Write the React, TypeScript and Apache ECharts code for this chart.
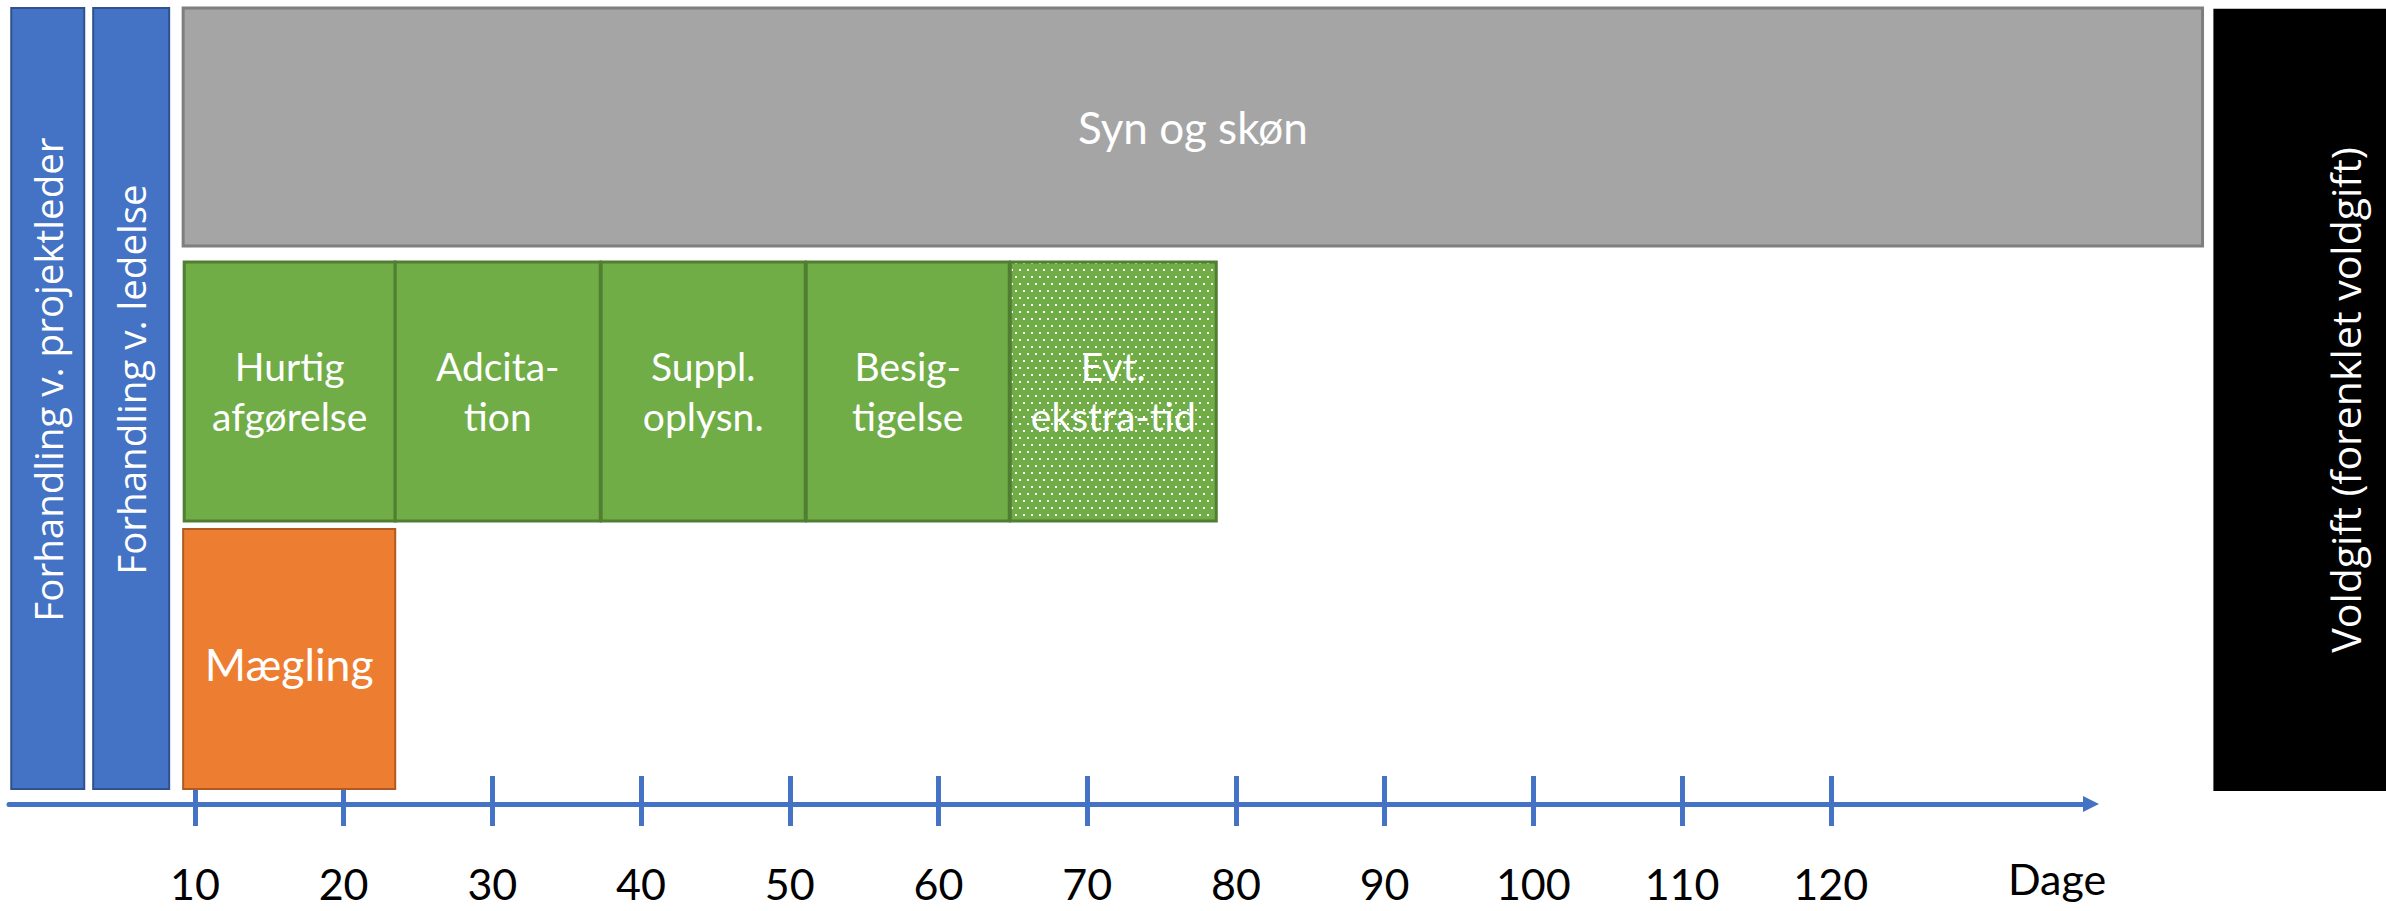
import React, { useEffect, useRef } from 'react';
import * as echarts from 'echarts';

// ---- data ----
const dayTicks = [10, 20, 30, 40, 50, 60, 70, 80, 90, 100, 110, 120];
const axisTitle = 'Dage';

const phaseNames = [
  'Forhandling v. projektleder',
  'Forhandling v. ledelse',
  'Syn og skøn',
  'Hurtig\nafgørelse',
  'Adcita-\ntion',
  'Suppl.\noplysn.',
  'Besig-\ntigelse',
  'Evt.\nekstra-tid',
  'Mægling',
  'Voldgift (forenklet voldgift)',
];
const phaseKind = ['lead', 'lead', 'survey', 'step', 'step', 'step', 'step', 'extra', 'mediation', 'arbitration'];
// start / end in days
const phaseStart = [-2.35, 3.16, 9.21, 9.28, 23.47, 37.32, 51.11, 64.83, 9.21, 145.73];
const phaseEnd = [2.56, 8.27, 145.0, 23.47, 37.26, 51.04, 64.76, 78.68, 23.47, 163.4];
// vertical lane extent (0 = timeline, 100 = top)
const laneLow = [1.88, 1.88, 70.1, 35.55, 35.55, 35.55, 35.55, 35.55, 1.88, 1.63];
const laneHigh = [100, 100, 100, 68.1, 68.1, 68.1, 68.1, 68.1, 34.55, 99.9];

const kindStyle: Record<string, any> = {
  lead: { fill: '#4472C4', stroke: '#2F528F', lw: 2, family: 'Open Sans', size: 38.5, vertical: true, dy: -19 },
  survey: { fill: '#A5A5A5', stroke: '#7F7F7F', lw: 3, family: 'Lato', size: 44 },
  step: { fill: '#70AD47', stroke: '#507E32', lw: 3, family: 'Lato', size: 39, lineHeight: 50 },
  extra: { fill: 'pattern', stroke: '#507E32', lw: 3, family: 'Lato', size: 39, lineHeight: 50 },
  mediation: { fill: '#ED7D31', stroke: '#AE5A21', lw: 2, family: 'Lato', size: 44.5, dy: 4 },
  arbitration: { fill: '#000000', stroke: null, lw: 0, family: 'Open Sans', size: 41, vertical: true },
};

function makeDots() {
  const c = document.createElement('canvas');
  c.width = 16;
  c.height = 14;
  const ctx = c.getContext('2d')!;
  ctx.fillStyle = '#70AD47';
  ctx.fillRect(0, 0, 16, 14);
  ctx.fillStyle = '#FFFFFF';
  ctx.fillRect(3, 3, 2, 2);
  ctx.fillRect(11, 3, 2, 2);
  ctx.fillRect(7, 10, 2, 2);
  ctx.fillRect(15, 10, 1, 2);
  ctx.fillRect(0, 10, 1, 2);
  return c;
}

export default function App() {
  const ref = useRef<HTMLDivElement>(null);
  useEffect(() => {
    if (!ref.current) return;
    const chart = echarts.init(ref.current, undefined, { renderer: 'svg' });
    const dots = makeDots();
    const pattern = { image: dots, repeat: 'repeat', imageWidth: 16, imageHeight: 14 };

    const data = phaseStart.map((s, i) => [s, phaseEnd[i], laneLow[i], laneHigh[i]]);

    const tickLine = { color: '#4472C4', width: 5 };

    chart.setOption({
      animation: false,
      grid: { left: 9, right: 295, top: 8, bottom: 107, containLabel: false, outerBoundsMode: 'none' },
      xAxis: [
        {
          type: 'value',
          min: -2.5,
          max: 137.5,
          position: 'bottom',
          axisLine: {
            show: true,
            onZero: false,
            lineStyle: { color: '#4472C4', width: 5 },
            symbol: ['none', 'triangle'],
            symbolSize: [16, 16],
          },
          axisTick: { show: true, customValues: dayTicks, length: 22, lineStyle: tickLine },
          axisLabel: {
            show: true,
            customValues: dayTicks,
            margin: 61,
            color: '#000000',
            fontFamily: 'Lato',
            fontSize: 43,
            lineHeight: 36,
            hideOverlap: false,
          },
          splitLine: { show: false },
          name: axisTitle,
          nameLocation: 'end',
          nameGap: -34,
          nameTextStyle: {
            color: '#000000',
            fontFamily: 'Lato',
            fontSize: 43,
            lineHeight: 36,
            align: 'center',
            verticalAlign: 'top',
            padding: [56, 0, 0, 0],
          },
        },
        {
          type: 'value',
          min: -2.5,
          max: 137.5,
          position: 'bottom',
          axisLine: { show: false, onZero: false },
          axisTick: { show: true, inside: true, customValues: dayTicks, length: 28, lineStyle: tickLine },
          axisLabel: { show: false },
          splitLine: { show: false },
        },
      ],
      yAxis: { type: 'value', min: 0, max: 100, show: false },
      series: [
        {
          type: 'custom',
          xAxisIndex: 0,
          yAxisIndex: 0,
          clip: false,
          encode: { x: [0, 1], y: [2, 3] },
          data,
          renderItem: (params: any, api: any) => {
            const i = params.dataIndex;
            const st = kindStyle[phaseKind[i]];
            const p1 = api.coord([api.value(0), api.value(3)]);
            const p2 = api.coord([api.value(1), api.value(2)]);
            const cx = (p1[0] + p2[0]) / 2;
            const cy = (p1[1] + p2[1]) / 2 + (st.dy || 0);
            return {
              type: 'group',
              children: [
                {
                  type: 'rect',
                  shape: { x: p1[0], y: p1[1], width: p2[0] - p1[0], height: p2[1] - p1[1] },
                  style: {
                    fill: st.fill === 'pattern' ? pattern : st.fill,
                    stroke: st.stroke,
                    lineWidth: st.lw,
                  },
                },
                {
                  type: 'text',
                  x: cx,
                  y: cy,
                  rotation: st.vertical ? Math.PI / 2 : 0,
                  style: {
                    text: phaseNames[i],
                    fill: '#FFFFFF',
                    fontFamily: st.family,
                    fontSize: st.size,
                    lineHeight: st.lineHeight,
                    align: 'center',
                    verticalAlign: 'middle',
                  },
                },
              ],
            };
          },
        },
      ],
    });
    return () => chart.dispose();
  }, []);
  return (
    <div
      ref={ref}
      style={{ position: 'fixed', left: 0, top: 0, width: 2386, height: 911, background: '#FFFFFF' }}
    />
  );
}
